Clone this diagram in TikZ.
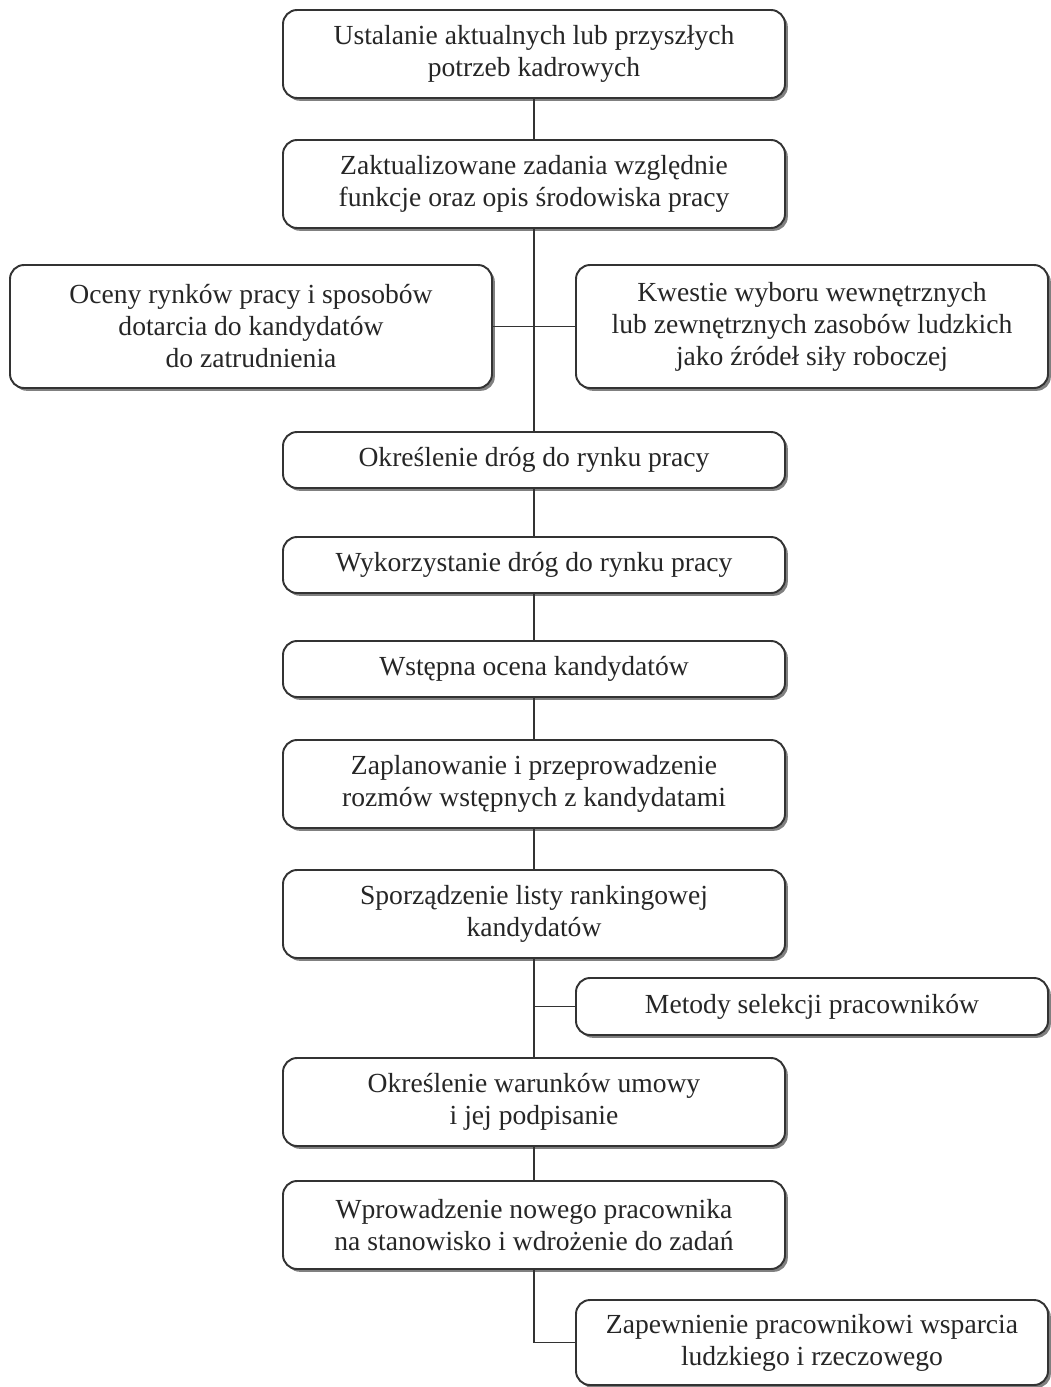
\documentclass[tikz,border=0pt]{standalone}
\usepackage{fontspec}
\setmainfont{Liberation Serif}
\usetikzlibrary{positioning,shadows}
\tikzset{
  every picture/.style = {
    line width = 1.1pt,
    node distance = 0.84cm and 1.5cm,
  }
  ,
  step-box/.style = {
    rectangle,
    rounded corners = 8pt,
    draw = black!80,
    fill = white,
    outer sep = 0pt,
    drop shadow = {shadow xshift=1.6pt, shadow yshift=-1.6pt, fill=black!50, opacity=1},
    font = \fontsize{15.7}{18.2}\selectfont,
    text = black!85,
    align = center,
    minimum width = 10.04cm,
    minimum height = 1.76cm,
    inner sep = 2pt
  }
  , % boxes beside the main column
  side-box/.style = {
    step-box,
    minimum width = 9.44cm
  }
  ,
  link/.style = {
    draw = black!80
  }
}

\begin{document}
\begin{tikzpicture}
\useasboundingbox (0,0) rectangle (21,-27.74);

\node [step-box] (potrzeby) at (10.68,-1.08) {Ustalanie aktualnych lub przyszłych\\potrzeb kadrowych};
\node [step-box, below = 0.84cm of potrzeby] (zadania) {Zaktualizowane zadania względnie\\funkcje oraz opis środowiska pracy};
\node [step-box, minimum height = 1.12cm, below = 4.08cm of zadania] (drogi) {Określenie dróg do rynku pracy};
\node [step-box, minimum height = 1.12cm, below = 0.98cm of drogi] (wykorz) {Wykorzystanie dróg do rynku pracy};
\node [step-box, minimum height = 1.12cm, below = 0.96cm of wykorz] (ocena) {Wstępna ocena kandydatów};
\node [step-box, below = 0.86cm of ocena] (rozmowy) {Zaplanowanie i przeprowadzenie\\rozmów wstępnych z kandydatami};
\node [step-box, below = 0.84cm of rozmowy] (lista) {Sporządzenie listy rankingowej\\kandydatów};
\node [step-box, below = 2.0cm of lista] (umowa) {Określenie warunków umowy\\i jej podpisanie};
\node [step-box, below = 0.7cm of umowa] (wdroz) {Wprowadzenie nowego pracownika\\na stanowisko i wdrożenie do zadań};

% side boxes
\node [side-box, minimum width = 9.64cm, minimum height = 2.46cm] (rynki) at (5.02,-6.53) {Oceny rynków pracy i sposobów\\dotarcia do kandydatów\\do zatrudnienia};
\node [side-box, minimum height = 2.46cm] (zasoby) at (16.24,-6.53) {Kwestie wyboru wewnętrznych\\lub zewnętrznych zasobów ludzkich\\jako źródeł siły roboczej};
\node [side-box, minimum height = 1.14cm] (metody) at (16.24,-20.13) {Metody selekcji pracowników};
\node [side-box, minimum height = 1.7cm] (wsparcie) at (16.24,-26.85) {Zapewnienie pracownikowi wsparcia\\ludzkiego i rzeczowego};

\draw [link] (potrzeby) -- (zadania);
\draw [link] (zadania) -- (drogi);
\draw [link] (drogi) -- (wykorz);
\draw [link] (wykorz) -- (ocena);
\draw [link] (ocena) -- (rozmowy);
\draw [link] (rozmowy) -- (lista);
\draw [link] (lista) -- (umowa);
\draw [link] (umowa) -- (wdroz);
\draw [link] (rynki) -- (zasoby);
\draw [link] (metody.west) -- (metody.west -| lista.south);
\draw [link] (wdroz.south) |- (wsparcie.west);
\end{tikzpicture}
\end{document}
